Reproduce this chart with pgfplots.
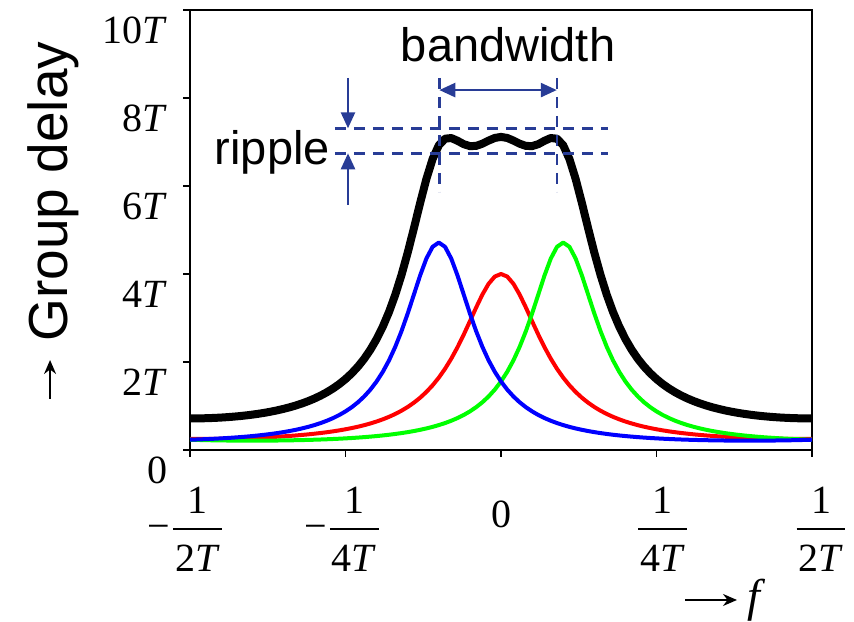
\documentclass[border=0pt]{standalone}
\usepackage{pgfplots}
\pgfplotsset{compat=1.18}
\usepackage{pgfplotstable}
\usepackage{fontspec}
\setmainfont{Liberation Sans}
\newfontfamily\tf{Liberation Serif}
\usetikzlibrary{arrows.meta}
\definecolor{annot}{RGB}{40,60,150}
\definecolor{pgreen}{RGB}{0,255,0}
\definecolor{pred}{RGB}{255,0,0}
\definecolor{pblue}{RGB}{0,0,255}
\setlength{\arrayrulewidth}{2pt}
\newcommand{\fr}[1]{\begin{tabular}{@{\hspace{2pt}}c@{\hspace{2pt}}}1\\\hline\rule{0pt}{42pt}#1\textit{T}\end{tabular}}

\pgfplotstableread{
f red blue green black
-0.50 0.2500 0.2334 0.2334 0.7168
-0.49 0.2502 0.2382 0.2292 0.7176
-0.48 0.2509 0.2437 0.2254 0.7200
-0.47 0.2521 0.2497 0.2222 0.7240
-0.46 0.2537 0.2565 0.2195 0.7297
-0.45 0.2559 0.2641 0.2172 0.7372
-0.44 0.2585 0.2725 0.2154 0.7464
-0.43 0.2617 0.2819 0.2139 0.7575
-0.42 0.2654 0.2923 0.2129 0.7706
-0.41 0.2697 0.3038 0.2123 0.7858
-0.40 0.2746 0.3166 0.2121 0.8033
-0.39 0.2801 0.3308 0.2123 0.8232
-0.38 0.2864 0.3466 0.2129 0.8459
-0.37 0.2934 0.3643 0.2139 0.8716
-0.36 0.3012 0.3839 0.2154 0.9005
-0.35 0.3099 0.4060 0.2172 0.9331
-0.34 0.3195 0.4307 0.2195 0.9697
-0.33 0.3302 0.4585 0.2222 1.0109
-0.32 0.3421 0.4899 0.2254 1.0574
-0.31 0.3552 0.5254 0.2292 1.1098
-0.30 0.3698 0.5658 0.2334 1.1690
-0.29 0.3859 0.6118 0.2382 1.2359
-0.28 0.4038 0.6646 0.2437 1.3121
-0.27 0.4237 0.7253 0.2497 1.3987
-0.26 0.4459 0.7955 0.2565 1.4979
-0.25 0.4706 0.8772 0.2641 1.6119
-0.24 0.4982 0.9725 0.2725 1.7432
-0.23 0.5291 1.0843 0.2819 1.8953
-0.22 0.5638 1.2162 0.2923 2.0723
-0.21 0.6029 1.3722 0.3038 2.2789
-0.20 0.6470 1.5576 0.3166 2.5212
-0.19 0.6970 1.7776 0.3308 2.8054
-0.18 0.7538 2.0385 0.3466 3.1389
-0.17 0.8185 2.3455 0.3643 3.5283
-0.16 0.8926 2.7013 0.3839 3.9778
-0.15 0.9776 3.1028 0.4060 4.4864
-0.14 1.0755 3.5354 0.4307 5.0416
-0.13 1.1884 3.9685 0.4585 5.6154
-0.12 1.3190 4.3500 0.4899 6.1589
-0.11 1.4700 4.6177 0.5254 6.6131
-0.10 1.6445 4.7143 0.5658 6.9246
-0.09 1.8454 4.6177 0.6118 7.0749
-0.08 2.0751 4.3500 0.6646 7.0897
-0.07 2.3340 3.9685 0.7253 7.0278
-0.06 2.6201 3.5354 0.7955 6.9510
-0.05 2.9260 3.1028 0.8772 6.9060
-0.04 3.2372 2.7013 0.9725 6.9110
-0.03 3.5310 2.3455 1.0843 6.9608
-0.02 3.7765 2.0385 1.2162 7.0312
-0.01 3.9418 1.7776 1.3722 7.0916
0.00 4.0000 1.5576 1.5576 7.1152
0.01 3.9418 1.3722 1.7776 7.0916
0.02 3.7765 1.2162 2.0385 7.0312
0.03 3.5310 1.0843 2.3455 6.9608
0.04 3.2372 0.9725 2.7013 6.9110
0.05 2.9260 0.8772 3.1028 6.9060
0.06 2.6201 0.7955 3.5354 6.9510
0.07 2.3340 0.7253 3.9685 7.0278
0.08 2.0751 0.6646 4.3500 7.0897
0.09 1.8454 0.6118 4.6177 7.0749
0.10 1.6445 0.5658 4.7143 6.9246
0.11 1.4700 0.5254 4.6177 6.6131
0.12 1.3190 0.4899 4.3500 6.1589
0.13 1.1884 0.4585 3.9685 5.6154
0.14 1.0755 0.4307 3.5354 5.0416
0.15 0.9776 0.4060 3.1028 4.4864
0.16 0.8926 0.3839 2.7013 3.9778
0.17 0.8185 0.3643 2.3455 3.5283
0.18 0.7538 0.3466 2.0385 3.1389
0.19 0.6970 0.3308 1.7776 2.8054
0.20 0.6470 0.3166 1.5576 2.5212
0.21 0.6029 0.3038 1.3722 2.2789
0.22 0.5638 0.2923 1.2162 2.0723
0.23 0.5291 0.2819 1.0843 1.8953
0.24 0.4982 0.2725 0.9725 1.7432
0.25 0.4706 0.2641 0.8772 1.6119
0.26 0.4459 0.2565 0.7955 1.4979
0.27 0.4237 0.2497 0.7253 1.3987
0.28 0.4038 0.2437 0.6646 1.3121
0.29 0.3859 0.2382 0.6118 1.2359
0.30 0.3698 0.2334 0.5658 1.1690
0.31 0.3552 0.2292 0.5254 1.1098
0.32 0.3421 0.2254 0.4899 1.0574
0.33 0.3302 0.2222 0.4585 1.0109
0.34 0.3195 0.2195 0.4307 0.9697
0.35 0.3099 0.2172 0.4060 0.9331
0.36 0.3012 0.2154 0.3839 0.9005
0.37 0.2934 0.2139 0.3643 0.8716
0.38 0.2864 0.2129 0.3466 0.8459
0.39 0.2801 0.2123 0.3308 0.8232
0.40 0.2746 0.2121 0.3166 0.8033
0.41 0.2697 0.2123 0.3038 0.7858
0.42 0.2654 0.2129 0.2923 0.7706
0.43 0.2617 0.2139 0.2819 0.7575
0.44 0.2585 0.2154 0.2725 0.7464
0.45 0.2559 0.2172 0.2641 0.7372
0.46 0.2537 0.2195 0.2565 0.7297
0.47 0.2521 0.2222 0.2497 0.7240
0.48 0.2509 0.2254 0.2437 0.7200
0.49 0.2502 0.2292 0.2382 0.7176
0.50 0.2500 0.2334 0.2334 0.7168
}\gd

\begin{document}
\begin{tikzpicture}
\begin{axis}[
  width=622pt, height=440pt, scale only axis,
  xmin=-0.5, xmax=0.5, ymin=0, ymax=10,
  clip=false,
  axis line style={line width=1.5pt},
  tick style={line width=1.5pt, black},
  tick align=outside, major tick length=7pt,
  xtick pos=bottom, ytick pos=left,
  xtick={-0.5,-0.25,0,0.25,0.5},
  xticklabels={{\makebox{−\hspace{3pt}\fr{2}\hspace{10pt}}},{\makebox{−\hspace{3pt}\fr{4}\hspace{8pt}}},{\raisebox{5pt}[0pt][0pt]{0}},{\makebox{\hspace{12pt}\fr{4}}},{\makebox{\hspace{18pt}\fr{2}}}},
  ytick={0,2,4,6,8,10},
  yticklabels={0,2\textit{T},4\textit{T},6\textit{T},8\textit{T},10\textit{T}},
  yticklabel style={font=\tf\fontsize{40}{48}\selectfont, yshift=-20pt, xshift=-12pt},
  xticklabel style={font=\tf\fontsize{40}{48}\selectfont, anchor=center, yshift=-76pt},
  every axis plot/.append style={line join=round, line cap=butt},
]
\addplot[pred, line width=4pt] table[x=f, y=red] {\gd};
\addplot[pgreen, line width=4pt] table[x=f, y=green] {\gd};
\addplot[pblue, line width=4pt] table[x=f, y=blue] {\gd};
\addplot[black, line width=8pt] table[x=f, y=black] {\gd};

\draw[annot, line width=2.5pt, dash pattern=on 11pt off 8pt] (axis cs:-0.267,7.311) -- (axis cs:0.1725,7.311);
\draw[annot, line width=2.5pt, dash pattern=on 11pt off 8pt] (axis cs:-0.267,6.743) -- (axis cs:0.1725,6.743);
\draw[annot, line width=2.5pt, dash pattern=on 11pt off 8pt] (axis cs:-0.0992,8.455) -- (axis cs:-0.0992,5.864);
\draw[annot, line width=2.5pt, dash pattern=on 11pt off 8pt] (axis cs:0.0897,8.455) -- (axis cs:0.0897,5.864);
\draw[annot, line width=2.5pt, {Triangle[length=16pt,width=14pt]}-{Triangle[length=16pt,width=14pt]}] (axis cs:-0.0992,8.18) -- (axis cs:0.0897,8.18);
\draw[annot, line width=2.5pt, -{Triangle[length=16pt,width=14pt]}] (axis cs:-0.246,8.455) -- (axis cs:-0.246,7.311);
\draw[annot, line width=2.5pt, -{Triangle[length=16pt,width=14pt]}] (axis cs:-0.246,5.568) -- (axis cs:-0.246,6.743);

\node[anchor=base, inner sep=0pt, font=\fontsize{47}{56}\selectfont] at (axis cs:0.0113,8.818) {bandwidth};
\node[anchor=base east, inner sep=0pt, font=\fontsize{47}{56}\selectfont] at (axis cs:-0.275,6.477) {ripple};
\node[rotate=90, anchor=base, inner sep=0pt, font=\fontsize{55}{60}\selectfont] at (axis cs:-0.6977,5.875) {Group delay};
\draw[black, line width=1.6pt, -{Stealth[length=14pt,width=12pt]}] (axis cs:-0.725,1.16) -- (axis cs:-0.725,2.045);
\draw[black, line width=1.6pt, -{Stealth[length=14pt,width=12pt]}] (axis cs:0.2958,-3.409) -- (axis cs:0.3794,-3.409);
\node[anchor=center, inner sep=0pt, font=\tf\fontsize{46}{50}\selectfont] at (axis cs:0.4116,-3.42) {\textit{f}};

\path (axis cs:-0.8055,-3.909) rectangle (axis cs:0.5675,10.227);
\end{axis}
\end{tikzpicture}
\end{document}
